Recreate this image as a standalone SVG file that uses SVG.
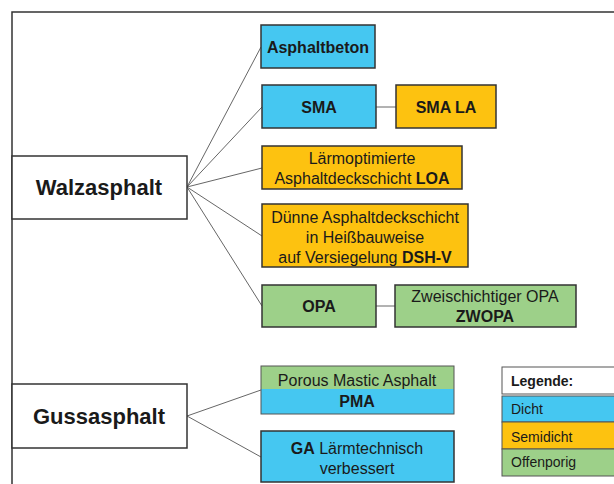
<svg xmlns="http://www.w3.org/2000/svg" width="614" height="484" viewBox="0 0 614 484">
<style>
text{font-family:"Liberation Sans",Arial,sans-serif;fill:#1a1a1a}
.box{stroke:#333;stroke-width:1.5}
.w{fill:#fff}
.b{fill:#45C7F1}
.o{fill:#FDC210}
.g{fill:#9DD089}
.c{stroke:#666;stroke-width:1;fill:none}
.t{font-size:16px;text-anchor:middle}
.tb{font-size:16px;text-anchor:middle;font-weight:bold}
.big{font-size:22px;font-weight:bold;text-anchor:middle}
.lg{font-size:14px}
</style>
<rect width="614" height="484" fill="#fff"/>
<path d="M12,484 V12 H614" fill="none" stroke="#333" stroke-width="1.5"/>
<g id="connectors">
<line class="c" x1="187" y1="187" x2="261" y2="47"/>
<line class="c" x1="187" y1="187" x2="262" y2="107"/>
<line class="c" x1="187" y1="187" x2="262" y2="168"/>
<line class="c" x1="187" y1="187" x2="262" y2="236"/>
<line class="c" x1="187" y1="187" x2="262" y2="306"/>
<line class="c" x1="376" y1="107" x2="396" y2="107"/>
<line class="c" x1="376" y1="306" x2="395" y2="306"/>
<line class="c" x1="187" y1="416" x2="261" y2="390"/>
<line class="c" x1="187" y1="416" x2="261" y2="457"/>
</g>
<g id="walzasphalt"><rect class="box w" x="12" y="156" width="175" height="63"/><text class="big" x="99" y="195">Walzasphalt</text></g>
<g id="asphaltbeton"><rect class="box b" x="261" y="25" width="114" height="43"/><text class="tb" x="318" y="53">Asphaltbeton</text></g>
<g id="sma"><rect class="box b" x="262" y="85" width="114" height="43"/><text class="tb" x="319" y="113">SMA</text></g>
<g id="smala"><rect class="box o" x="396" y="85" width="100" height="43"/><text class="tb" x="446" y="113">SMA LA</text></g>
<g id="loa"><rect class="box o" x="262" y="146" width="200" height="43"/><text class="t" x="362" y="164">Lärmoptimierte</text><text class="t" x="362" y="184">Asphaltdeckschicht <tspan font-weight="bold">LOA</tspan></text></g>
<g id="dshv"><rect class="box o" x="262" y="204" width="206" height="63"/><text class="t" x="365" y="223">Dünne Asphaltdeckschicht</text><text class="t" x="365" y="243">in Heißbauweise</text><text class="t" x="365" y="263">auf Versiegelung <tspan font-weight="bold">DSH-V</tspan></text></g>
<g id="opa"><rect class="box g" x="262" y="285" width="114" height="42"/><text class="tb" x="319" y="312">OPA</text></g>
<g id="zwopa"><rect class="box g" x="395" y="285" width="181" height="42"/><text class="t" x="485" y="302">Zweischichtiger OPA</text><text class="tb" x="485" y="322">ZWOPA</text></g>
<g id="gussasphalt"><rect class="box w" x="12" y="384" width="175" height="64"/><text class="big" x="99" y="424">Gussasphalt</text></g>
<g id="pma"><rect class="g" x="261" y="366" width="193" height="23"/><rect class="b" x="261" y="389" width="193" height="25"/><rect x="261" y="366" width="193" height="48" fill="none" stroke="#555" stroke-width="1"/><text class="t" x="357" y="386">Porous Mastic Asphalt</text><text class="tb" x="357" y="407">PMA</text></g>
<g id="ga"><rect class="box b" x="261" y="431" width="193" height="51"/><text class="t" x="357" y="454"><tspan font-weight="bold">GA</tspan> Lärmtechnisch</text><text class="t" x="357" y="474">verbessert</text></g>
<g id="legend">
<rect x="502" y="367" width="120" height="27" fill="#fff" stroke="#555" stroke-width="1"/><text class="lg" x="511" y="386" font-weight="bold">Legende:</text>
<rect x="502" y="396" width="120" height="26" class="b" stroke="#555" stroke-width="1"/><text class="lg" x="511" y="414">Dicht</text>
<rect x="502" y="422" width="120" height="27" class="o" stroke="#555" stroke-width="1"/><text class="lg" x="511" y="442">Semidicht</text>
<rect x="502" y="449" width="120" height="27" class="g" stroke="#555" stroke-width="1"/><text class="lg" x="511" y="467">Offenporig</text>
</g>
</svg>
